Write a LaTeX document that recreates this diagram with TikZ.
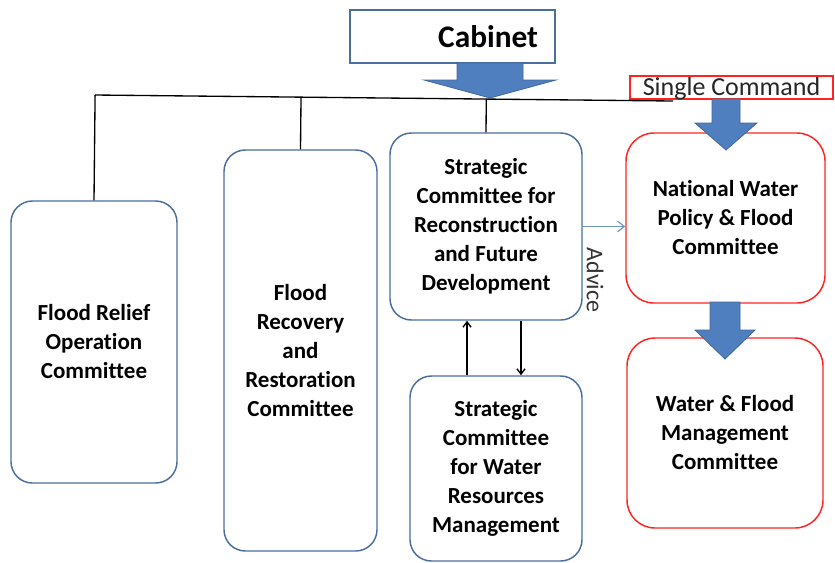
\documentclass[tikz,border=0pt]{standalone}
\usepackage{fontspec}
\setmainfont{Carlito}[Ligatures=NoCommon]
\usetikzlibrary{arrows.meta,calc}
\definecolor{orgblue}{HTML}{4A6F9E}
\definecolor{orgfill}{HTML}{4F7FBE}
\definecolor{orgedge}{HTML}{41689A}
\definecolor{orgred}{HTML}{FF2424}
\definecolor{advblue}{HTML}{6F96C6}
\tikzset{
  unit/.style={draw=orgblue, line width=1.1pt, fill=white, rounded corners=16pt,
    align=center, inner sep=3pt, font=\fontsize{17.25}{21.75}\selectfont\bfseries},
  redunit/.style={unit, draw=orgred, rounded corners=21pt},
  cabinetbox/.style={draw=orgblue, line width=1.1pt, fill=white, align=right,
    inner xsep=12.75pt, text width=128.25pt, minimum height=39.75pt,
    font=\fontsize{23.5}{27}\selectfont\bfseries},
  cmdbox/.style={draw=orgred, line width=1pt, inner sep=0pt, minimum width=152.25pt,
    text height=14.25pt, text depth=3pt, text=black!85,
    font=\fontsize{19.5}{23}\selectfont},
  link/.style={line width=1pt, black},
  linkarrow/.style={link, -{Straight Barb[length=4pt,width=6pt]}},
  advice/.style={line width=0.9pt, advblue, -{Straight Barb[length=5pt,width=8pt]}},
  bigarrow/.style={fill=orgfill, draw=orgedge, line width=0.6pt},
  note/.style={font=\fontsize{18}{22}\selectfont, text=black!80},
}

\begin{document}
\begin{tikzpicture}[x=0.75pt,y=-0.75pt]
\useasboundingbox (0,0) rectangle (835,562);

% top of the chain
\node[cabinetbox] (cabinet) at (452.5,36.5) {Cabinet};
\node[cmdbox] (command) at (731.5,87.5) {Single Command};

% committees under the cabinet
\node[unit, minimum width=124.5pt, minimum height=211.5pt] (relief) at (94,342)
  {Flood Relief\\Operation\\Committee};
\node[unit, minimum width=114.75pt, minimum height=300.75pt] (recovery) at (300.5,350.5)
  {Flood\\Recovery\\and\\Restoration\\Committee};
\node[unit, minimum width=144pt, minimum height=140.25pt] (recon) at (486,226.5)
  {Strategic\\Committee for\\Reconstruction\\and Future\\Development};
\node[unit, minimum width=129pt, minimum height=138.75pt] (waterres) at (496,468.5)
  {Strategic\\Committee\\for Water\\Resources\\Management};

% single command branch
\node[redunit, minimum width=149.25pt, minimum height=127.5pt] (policy) at (725.5,218)
  {National Water\\Policy \& Flood\\Committee};
\node[redunit, minimum width=147pt, minimum height=142.5pt] (floodmgmt) at (725,433)
  {Water \& Flood\\Management\\Committee};

% bus line and drops
\coordinate (busL) at (95,95);
\coordinate (busR) at (673,101);
\draw[link] (busL) -- (busR);
\foreach \unit in {relief, recovery, recon}
  \draw[link] (\unit.north) -- ($(busL)!(\unit.north)!(busR)$);

% two-way link between the strategic committees
\draw[linkarrow] ([xshift=-21.75pt]waterres.north) -- ([xshift=-21.75pt]waterres.north |- recon.south);
\draw[linkarrow] ([xshift=18.75pt]waterres.north |- recon.south) -- ([xshift=18.75pt]waterres.north);

% advice
\draw[advice] (recon.east) -- (recon.east -| policy.west);
\node[note, rotate=-90] (advicelbl) at (595,280) {Advice};

% block arrows
\foreach \ax/\ya/\yb/\yc/\sw/\hw in {490/63/80/98/33/66, 726/99/123/150/14/31, 725/302/330/359/15/30}
  \filldraw[bigarrow] (\ax-\sw,\ya) -- (\ax+\sw,\ya) -- (\ax+\sw,\yb) -- (\ax+\hw,\yb)
    -- (\ax,\yc) -- (\ax-\hw,\yb) -- (\ax-\sw,\yb) -- cycle;

\end{tikzpicture}
\end{document}
